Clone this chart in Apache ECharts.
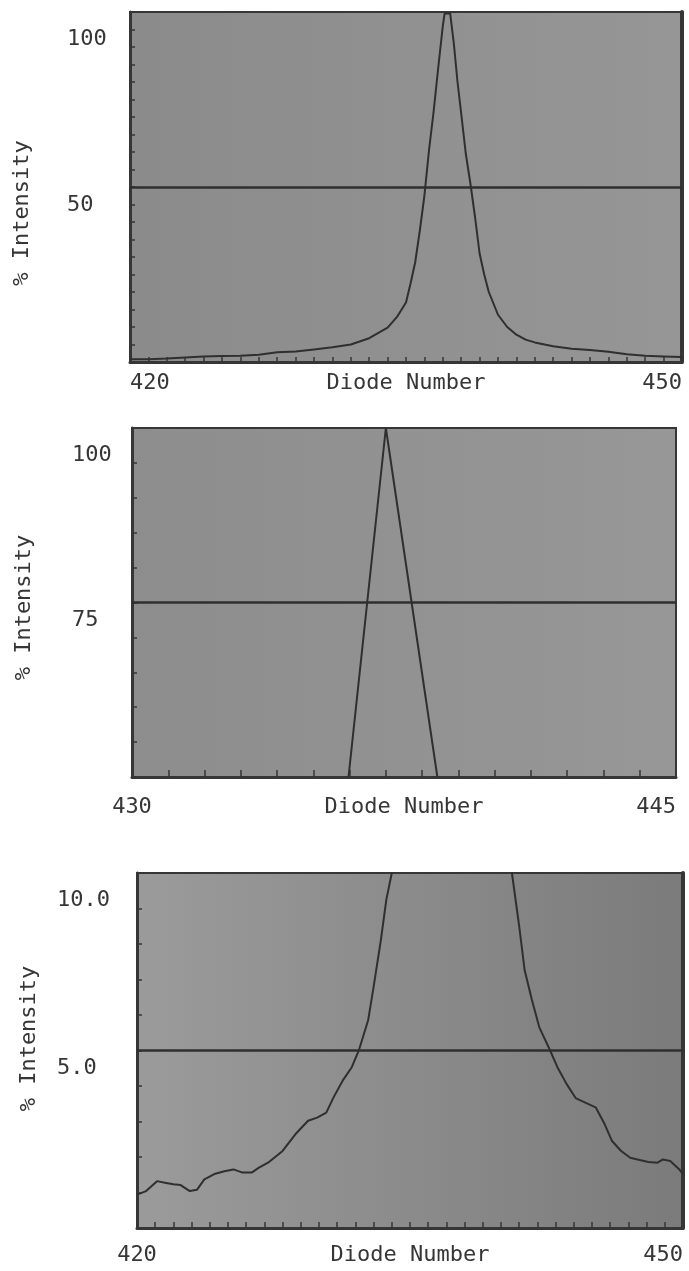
<!DOCTYPE html>
<html>
<head>
<meta charset="utf-8">
<script src="https://cdn.jsdelivr.net/npm/echarts@6/dist/echarts.min.js"></script>
<style>
  html, body { margin: 0; padding: 0; background: #ffffff; }
  #chart { width: 689px; height: 1271px; }
</style>
</head>
<body>
<div id="chart"></div>
<script>
// ---- Data -------------------------------------------------------------
// Full spectrum around the peak, diodes 420-450 (% intensity)
const spectrumFull = [
  [420.0, 0.8], [421.0, 0.8], [422.0, 1.0], [423.0, 1.3], [424.0, 1.6],
  [425.0, 1.7], [426.0, 1.8], [427.0, 2.1], [428.0, 2.8], [429.0, 3.0],
  [430.0, 3.6], [431.0, 4.2], [432.0, 5.0], [433.0, 6.8], [434.0, 9.8],
  [434.5, 12.8], [435.0, 17.0], [435.25, 22.5], [435.5, 28.5], [435.75, 37.5],
  [436.0, 47.5], [436.25, 60.5], [436.5, 71.5], [436.75, 84.0], [437.0, 96.0],
  [437.1, 99.6], [437.4, 99.6], [437.6, 91.0], [437.8, 80.0], [438.0, 71.0],
  [438.25, 59.5], [438.5, 51.0], [438.75, 41.5], [439.0, 31.0], [439.25, 25.0],
  [439.5, 20.0], [440.0, 13.5], [440.5, 10.0], [441.0, 7.8], [441.5, 6.4],
  [442.0, 5.6], [442.6, 4.9], [443.0, 4.5], [444.0, 3.8], [445.0, 3.4],
  [446.0, 2.9], [447.0, 2.2], [448.0, 1.8], [449.0, 1.6], [450.0, 1.4]
];

// Peak top, diodes 430-445, intensity 50-100 %
const spectrumTop = [
  [435.97, 50.0], [437.0, 100.0], [438.42, 50.0]
];

// Wings of the peak, intensity 0-10 %
const spectrumWings = [
  [420.0, 0.94], [420.5, 1.04], [421.1, 1.32], [421.6, 1.27], [422.0, 1.23],
  [422.4, 1.21], [422.9, 1.04], [423.3, 1.08], [423.7, 1.37], [424.3, 1.53],
  [424.8, 1.60], [425.3, 1.65], [425.8, 1.56], [426.3, 1.56], [426.7, 1.70],
  [427.2, 1.84], [428.0, 2.17], [428.7, 2.64], [429.4, 3.02], [429.9, 3.11],
  [430.4, 3.25], [430.8, 3.68], [431.3, 4.15], [431.8, 4.53], [432.2, 5.02],
  [432.7, 5.85], [433.0, 6.79], [433.4, 8.11], [433.7, 9.25], [434.0, 10.0],
  [434.5, 12.8], [440.0, 13.5],
  [440.6, 10.0], [441.0, 8.5], [441.3, 7.26], [441.7, 6.42], [442.1, 5.66],
  [442.7, 5.0], [443.1, 4.53], [443.6, 4.06], [444.1, 3.66], [444.6, 3.54],
  [445.2, 3.40], [445.7, 2.92], [446.1, 2.45], [446.6, 2.17], [447.1, 1.98],
  [447.5, 1.93], [448.1, 1.86], [448.6, 1.84], [448.9, 1.93], [449.3, 1.89],
  [449.8, 1.65], [450.0, 1.51]
];

// Axis ranges and reference levels
const diodeRanges = [[420, 450], [430, 445], [420, 450]];
const intensityRanges = [[0, 100], [50, 100], [0, 10]];
const intensitySteps = [5, 5, 1];
const midLevels = [50, 75, 5];
// Tick labels on the intensity axes: value, text, text rows pushed down
const intensityLabels = [
  [[100, '100', 3], [50, '50', 2]],
  [[100, '100', 3], [75, '75', 2]],
  [[10, '10.0', 3], [5, '5.0', 2]]
];
const seriesData = [spectrumFull, spectrumTop, spectrumWings];

// ---- Layout & style ---------------------------------------------------
const FONT = '"DejaVu Sans Mono", "Liberation Mono", monospace';
const INK = '#363636';
const layout = [
  { left: 130, top: 12,  width: 552, height: 350, yMargin: 63, xMargin: 10, nameGap: 10, minAlign: 'left',
    bg: ['#8b8b8b', '#969696'], titlePad: [0, 52, 0, 0], tick: 5, rightEdge: 4 },
  { left: 132, top: 428, width: 544, height: 349, yMargin: 60, xMargin: 19, nameGap: 19, minAlign: 'center',
    bg: ['#8d8d8d', '#979797'], titlePad: [0, 10, 0, 0], tick: 7, rightEdge: 2 },
  { left: 137, top: 873, width: 546, height: 355, yMargin: 80, xMargin: 16, nameGap: 16, minAlign: 'center',
    bg: ['#9b9b9b', '#7b7b7b'], titlePad: [0, 0, 0, 24], tick: 6, rightEdge: 4 }
];

const textBase = { color: INK, fontFamily: FONT, fontSize: 22 };

const grids = [], xAxes = [], yAxes = [], series = [];

layout.forEach((g, i) => {
  const [xMin, xMax] = diodeRanges[i];
  const [yMin, yMax] = intensityRanges[i];
  const labels = intensityLabels[i];

  grids.push({
    left: g.left, top: g.top, width: g.width, height: g.height,
    outerBoundsMode: 'none',
    containLabel: false,
    show: true,
    borderColor: INK, borderWidth: 2,
    backgroundColor: {
      type: 'linear', x: 0, y: 0, x2: 1, y2: 0,
      colorStops: [{ offset: 0, color: g.bg[0] }, { offset: 1, color: g.bg[1] }]
    }
  });

  xAxes.push({
    type: 'value', gridIndex: i, min: xMin, max: xMax, interval: 1,
    axisLine: { show: true, onZero: false, lineStyle: { color: INK, width: 3 } },
    axisTick: { show: true, inside: true, length: g.tick, lineStyle: { color: INK, width: 1.5 } },
    splitLine: { show: false },
    axisLabel: Object.assign({}, textBase, {
      margin: g.xMargin,
      showMinLabel: true, showMaxLabel: true,
      alignMinLabel: g.minAlign, alignMaxLabel: 'right',
      formatter: v => (v === xMin || v === xMax) ? String(v) : ''
    }),
    name: 'Diode Number', nameLocation: 'middle', nameGap: g.nameGap,
    nameMoveOverlap: false,
    nameTextStyle: Object.assign({}, textBase)
  });

  // left intensity axis with labels and title
  yAxes.push({
    type: 'value', gridIndex: i, min: yMin, max: yMax, interval: intensitySteps[i],
    axisLine: { show: true, onZero: false, lineStyle: { color: INK, width: 3 } },
    axisTick: { show: true, inside: true, length: 5, lineStyle: { color: INK, width: 1.5 } },
    splitLine: { show: false },
    axisLabel: Object.assign({}, textBase, {
      align: 'left', margin: g.yMargin, lineHeight: 18,
      showMinLabel: true, showMaxLabel: true,
      formatter: v => {
        const hit = labels.find(l => Math.abs(l[0] - v) < 1e-6);
        // printed a few text rows below its tick
        return hit ? '\n'.repeat(hit[2]) + hit[1] : '';
      }
    }),
    name: '% Intensity', nameLocation: 'middle', nameGap: 97, nameRotate: 90,
    nameMoveOverlap: false,
    nameTextStyle: Object.assign({}, textBase, { padding: g.titlePad })
  });

  // right frame edge, drawn heavier than the top edge
  yAxes.push({
    type: 'value', gridIndex: i, position: 'right', min: yMin, max: yMax,
    axisLine: { show: true, onZero: false, lineStyle: { color: INK, width: g.rightEdge } },
    axisTick: { show: false }, axisLabel: { show: false }, splitLine: { show: false }
  });

  series.push({
    type: 'line', xAxisIndex: i, yAxisIndex: i * 2,
    data: seriesData[i],
    showSymbol: false, symbol: 'none', clip: true, silent: true,
    lineStyle: { color: '#2f2f2f', width: 2 },
    markLine: {
      silent: true, symbol: 'none',
      label: { show: false },
      lineStyle: { color: '#2f2f2f', width: 2.5, type: 'solid' },
      data: [{ yAxis: midLevels[i] }]
    },
    z: 3
  });
});

const chart = echarts.init(document.getElementById('chart'), null, { renderer: 'canvas' });
chart.setOption({
  backgroundColor: '#ffffff',
  animation: false,
  grid: grids,
  xAxis: xAxes,
  yAxis: yAxes,
  series: series
});
</script>
</body>
</html>
